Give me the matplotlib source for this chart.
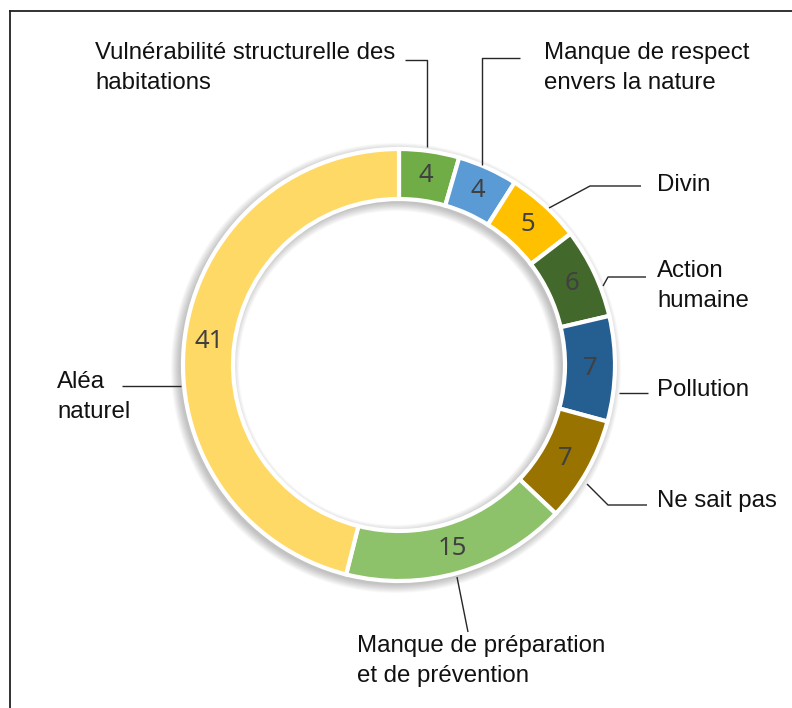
import matplotlib
matplotlib.use("Agg")
import matplotlib.pyplot as plt
from matplotlib.patches import Wedge
import numpy as np

# donut data, clockwise from 12 o'clock
categories = [
    "Vulnérabilité structurelle des\nhabitations",
    "Manque de respect\nenvers la nature",
    "Divin",
    "Action\nhumaine",
    "Pollution",
    "Ne sait pas",
    "Manque de préparation\net de prévention",
    "Aléa\nnaturel",
]
values = [4, 4, 5, 6, 7, 7, 15, 41]
colors = ["#70AD47", "#5B9BD5", "#FFC000", "#43682B",
          "#255E91", "#987300", "#8DC26A", "#FFD966"]

W, H = 792, 708
cx, cy = 399, H - 365
R, ring = 216, 50

# label anchor (left x, centre y) and leader-line vertices, in pixel coords (y down)
label_pos = [(95, 68), (544, 68), (657, 185), (657, 286),
             (657, 390), (657, 501), (357, 661), (57, 397)]
leaders = [
    [(405, 60), (427, 60), (427, 147)],
    [(520, 58), (482, 58), (482, 165)],
    [(641, 186), (590, 186), (549, 208)],
    [(646, 277), (608, 277), (603, 286)],
    [(648, 393), (619, 393)],
    [(647, 505), (608, 505), (587, 484)],
    [(468, 632), (457, 577)],
    [(122, 386), (181, 386)],
]

fig = plt.figure(figsize=(W / 100, H / 100), dpi=100)
ax = fig.add_axes([0, 0, 1, 1])

# soft shadow behind the ring
for i in range(9):
    ax.add_patch(Wedge((cx - 3, cy - 3), R + 1 + i, 0, 360, width=ring + 2 + 2 * i,
                       facecolor="black", edgecolor="none", alpha=0.028, zorder=0))

wedges, _ = ax.pie(values, colors=colors, radius=R, center=(cx, cy),
                   startangle=90, counterclock=False,
                   wedgeprops=dict(width=ring, edgecolor="white", linewidth=3))

# value labels in the middle of each segment
mid_r = R - ring / 2
for w, v in zip(wedges, values):
    ang = np.deg2rad((w.theta1 + w.theta2) / 2)
    ax.text(cx + mid_r * np.cos(ang), cy + mid_r * np.sin(ang), str(v),
            ha="center", va="center", fontsize=18.5, color="#404040",
            family="Noto Sans", zorder=5)

for name, (lx, ly), pts in zip(categories, label_pos, leaders):
    ax.text(lx, H - ly, name, ha="left", va="center", fontsize=17.3,
            family="Liberation Sans", color="#111111", linespacing=1.45)
    xs = [p[0] for p in pts]
    ys = [H - p[1] for p in pts]
    ax.plot(xs, ys, color="#262626", lw=1.0, solid_capstyle="butt")

# frame
ax.plot([10, W], [H - 11, H - 11], color="#222222", lw=1.3)
ax.plot([10, 10], [H - 11, 0], color="#222222", lw=1.3)

ax.set_xlim(0, W)
ax.set_ylim(0, H)
ax.set_aspect("equal")
ax.axis("off")

fig.savefig("out.png", dpi=100, facecolor="white")
